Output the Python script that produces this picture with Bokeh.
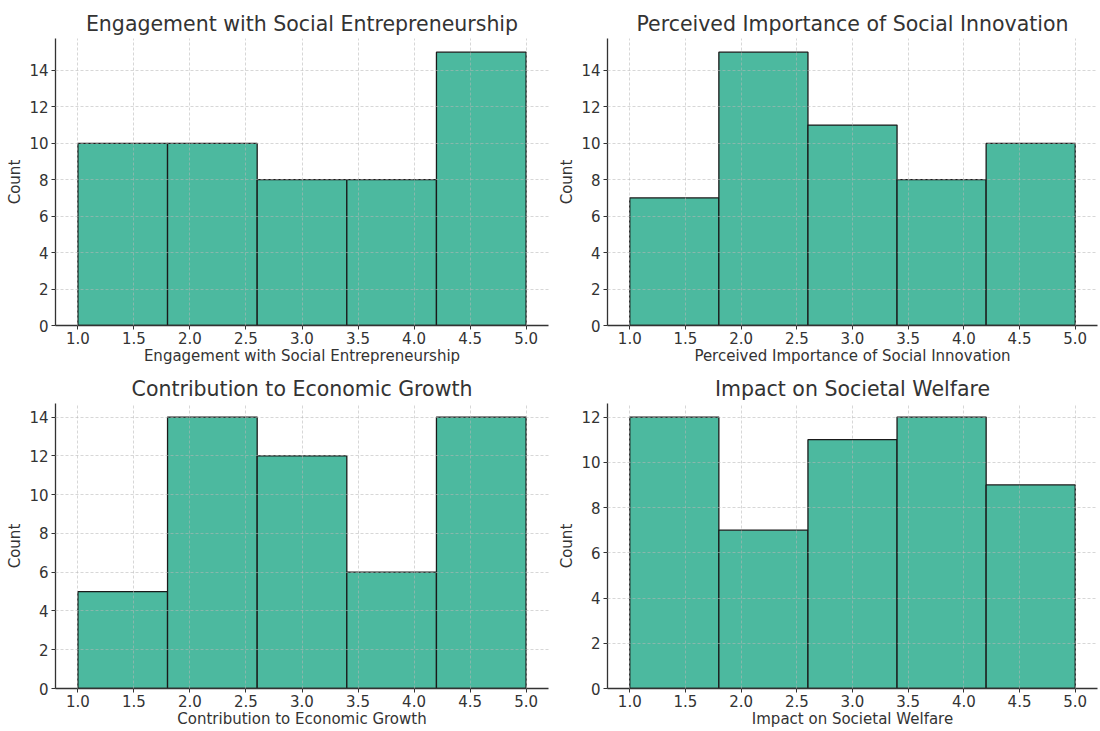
from bokeh.plotting import figure
from bokeh.layouts import gridplot
from bokeh.models import FixedTicker, NumeralTickFormatter, Range1d
from bokeh.embed import file_html
from bokeh.resources import INLINE

bin_edges = [1.0, 1.8, 2.6, 3.4, 4.2, 5.0]
titles = ["Engagement with Social Entrepreneurship",
          "Perceived Importance of Social Innovation",
          "Contribution to Economic Growth",
          "Impact on Societal Welfare"]
engagement_counts = [10, 10, 8, 8, 15]
importance_counts = [7, 15, 11, 8, 10]
growth_counts = [5, 14, 12, 6, 14]
welfare_counts = [12, 7, 11, 12, 9]
all_counts = [engagement_counts, importance_counts, growth_counts, welfare_counts]
x_ticks = [1.0, 1.5, 2.0, 2.5, 3.0, 3.5, 4.0, 4.5, 5.0]

FONT = "DejaVu Sans"
TXT = "#333333"

# layout per panel: (width, height, border_left, border_right, border_top, border_bottom)
layouts = [
    (552, 367, 55, 4, 38, 42),
    (546, 367, 55, 1, 38, 42),
    (552, 363, 55, 4, 36, 42),
    (546, 363, 55, 1, 36, 42),
]

figs = []
for i, (title, counts) in enumerate(zip(titles, all_counts)):
    w, h, bl, br, bt, bb = layouts[i]
    ymax = max(counts) * 1.05
    p = figure(width=w, height=h, output_backend="svg", toolbar_location=None,
               x_range=Range1d(0.8, 5.2), y_range=Range1d(0, ymax),
               min_border_left=bl, min_border_right=br,
               min_border_top=bt, min_border_bottom=bb)
    p.quad(left=bin_edges[:-1], right=bin_edges[1:], bottom=0, top=counts,
           fill_color="#4cb99f", fill_alpha=1.0, line_color="#1a1a1a", line_width=1.3)
    p.title.text = title
    p.title.align = "center"
    p.title.text_font = FONT
    p.title.text_font_size = "20.5px"
    p.title.text_font_style = "normal"
    p.title.text_color = TXT
    p.title.standoff = 6
    p.outline_line_color = None
    p.background_fill_color = "white"
    p.border_fill_color = "white"

    p.xaxis.ticker = FixedTicker(ticks=x_ticks)
    p.xaxis.formatter = NumeralTickFormatter(format="0.0")
    p.yaxis.ticker = FixedTicker(ticks=list(range(0, int(ymax) + 1, 2)))
    p.xaxis.axis_label = title
    p.yaxis.axis_label = "Count"
    for ax in (p.xaxis, p.yaxis):
        ax.axis_label_text_font = FONT
        ax.axis_label_text_font_size = "15px"
        ax.axis_label_text_font_style = "normal"
        ax.axis_label_text_color = TXT
        ax.major_label_text_font = FONT
        ax.major_label_text_font_size = "15px"
        ax.major_label_text_color = TXT
        ax.axis_line_color = "#333333"
        ax.axis_line_width = 1.3
        ax.major_tick_line_color = "#333333"
        ax.major_tick_out = 4
        ax.major_tick_in = 0
        ax.minor_tick_line_color = None
    p.xaxis.axis_label_standoff = 0
    p.yaxis.axis_label_standoff = 2
    p.xaxis.major_label_standoff = 2
    p.yaxis.major_label_standoff = 3

    for g in (p.xgrid, p.ygrid):
        g.level = "overlay"
        g.grid_line_color = "#b8b8b8"
        g.grid_line_alpha = 0.7
        g.grid_line_dash = "3 2"
        g.grid_line_width = 0.8
    p.xgrid.ticker = FixedTicker(ticks=x_ticks)
    figs.append(p)

grid = gridplot([[figs[0], figs[1]], [figs[2], figs[3]]], toolbar_location=None)
open("out.html", "w").write(file_html(grid, INLINE))
